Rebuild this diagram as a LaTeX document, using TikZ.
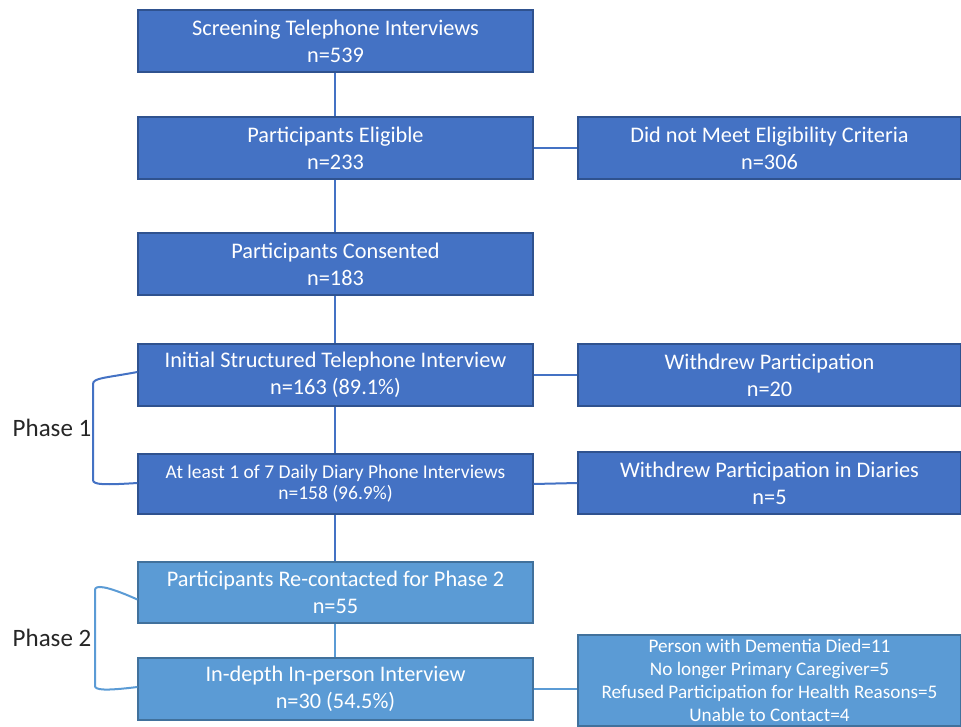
\documentclass[tikz,border=0pt]{standalone}
\usepackage{fontspec}
\setmainfont{Carlito}
\definecolor{dblue}{HTML}{4472C4}
\definecolor{dborder}{HTML}{2F528F}
\definecolor{lblue}{HTML}{5B9BD5}
\definecolor{lborder}{HTML}{41719C}
\begin{document}
\begin{tikzpicture}[x=1pt,y=-1pt,
  box/.style={draw=dborder,fill=dblue,line width=1.2pt,text=white,align=center,inner sep=0pt,font=\fontsize{22.3}{27}\selectfont},
  lbox/.style={draw=lborder,fill=lblue,line width=1.2pt,text=white,align=center,inner sep=0pt,font=\fontsize{22.3}{27}\selectfont},
  conn/.style={draw=dblue,line width=2pt},
  lconn/.style={draw=lblue,line width=2pt},
  phase/.style={font=\fontsize{25}{28}\selectfont,text=black!85}]
\useasboundingbox (0,0) rectangle (961,727);
\begin{scope}
\clip (0,0) rectangle (961,727);
% main column
\node[box,minimum width=395pt,minimum height=62pt] (a) at (335.5,41) {Screening Telephone Interviews\\n=539};
\node[box,minimum width=395pt,minimum height=62pt] (b) at (335.5,148) {Participants Eligible\\n=233};
\node[box,minimum width=383pt,minimum height=62pt] (br) at (769.5,148) {Did not Meet Eligibility Criteria\\n=306};
\node[box,minimum width=395pt,minimum height=62pt] (c) at (335.5,264) {Participants Consented\\n=183};
\node[box,minimum width=395pt,minimum height=62pt] (d) at (335.5,375) {Initial Structured Telephone Interview\\n=163 (89.1\%)};
\node[box,minimum width=383pt,minimum height=62pt] (dr) at (769.5,375) {Withdrew Participation\\n=20};
\node[box,minimum width=395pt,minimum height=60pt,font=\fontsize{19.5}{21}\selectfont] (e) at (335.5,484) {At least 1 of 7 Daily Diary Phone Interviews\\n=158 (96.9\%)};
\node[box,minimum width=383pt,minimum height=62pt] (er) at (769.5,483) {Withdrew Participation in Diaries\\n=5};
\node[lbox,minimum width=395pt,minimum height=61pt] (f) at (335.5,592.5) {Participants Re-contacted for Phase 2\\n=55};
\node[lbox,minimum width=395pt,minimum height=62pt] (g) at (335.5,689) {In-depth In-person Interview\\n=30 (54.5\%)};
\node[lbox,minimum width=383pt,minimum height=91pt,font=\fontsize{19.2}{22.8}\selectfont] (gr) at (769.5,680.5) {Person with Dementia Died=11\\No longer Primary Caregiver=5\\Refused Participation for Health Reasons=5\\Unable to Contact=4};
\end{scope}
% connectors
\draw[conn] ([xshift=-0.5pt]a.south) -- ([xshift=-0.5pt]b.north);
\draw[conn] ([xshift=-0.5pt]b.south) -- ([xshift=-0.5pt]c.north);
\draw[conn] ([xshift=-0.5pt]c.south) -- ([xshift=-0.5pt]d.north);
\draw[conn] ([xshift=-0.5pt]d.south) -- ([xshift=-0.5pt]e.north);
\draw[conn] ([xshift=-0.5pt]e.south) -- ([xshift=-0.5pt]f.north);
\draw[lconn] ([xshift=-0.5pt]f.south) -- ([xshift=-0.5pt]g.north);
\draw[conn] (b.east) -- (br.west);
\draw[conn] (d.east) -- (dr.west);
\draw[conn] (e.east) -- (er.west);
\draw[lconn] (g.east) -- (gr.west |- g.east);
% phase brackets
\coordinate (p1a) at (d.west);
\coordinate (p1b) at (e.west);
\draw[conn] ([yshift=3pt]p1a) .. controls (105,378) and (93,378) .. (93,384) -- (93,480) .. controls (93,485) and (105,485) .. ([yshift=1pt]p1b);
\coordinate (p2a) at (f.west);
\coordinate (p2b) at (g.west);
\draw[lconn] ([yshift=-7pt]p2a) .. controls (105,585) and (95,585) .. (95,590) -- (95,686) .. controls (95,690) and (105,691) .. ([yshift=2pt]p2b);
\node[phase] (ph1) at (52,428) {Phase 1};
\node[phase] (ph2) at (52,638) {Phase 2};
\end{tikzpicture}
\end{document}
